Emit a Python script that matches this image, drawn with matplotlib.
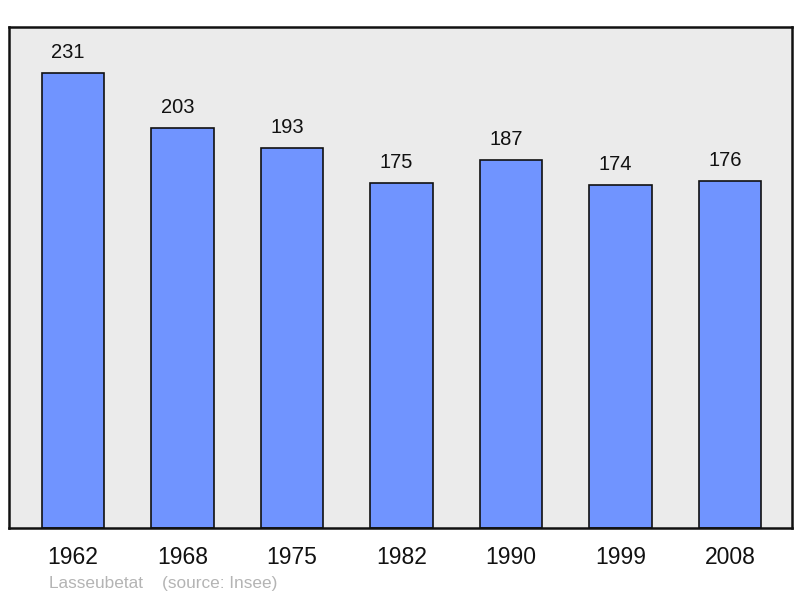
import matplotlib.pyplot as plt

plt.rcParams["font.family"] = ["Liberation Sans", "DejaVu Sans"]

years = ["1962", "1968", "1975", "1982", "1990", "1999", "2008"]
population = [231, 203, 193, 175, 187, 174, 176]

fig = plt.figure(figsize=(8, 5.98), dpi=100)
ax = fig.add_axes([0.0113, 0.117, 0.979, 0.838])
ax.set_facecolor("#ebebeb")

x = list(range(len(years)))
bars = ax.bar(x, population, width=0.57, color="#7094ff", edgecolor="#111111",
              linewidth=1.2, zorder=2)

# value labels sit a bit left of centre in the original
for xi, v in zip(x, population):
    ax.annotate(str(v), (xi, v), xytext=(-3.6, 10.8), textcoords="offset points",
                ha="center", va="baseline", fontsize=14.5, color="#111111")

ax.set_xlim(-0.585, 6.57)
ax.set_ylim(0, 254.5)
ax.set_yticks([])
ax.set_xticks(x)
ax.set_xticklabels(years, fontsize=16.5, color="#111111")
ax.tick_params(axis="x", length=0, pad=13)
for s in ax.spines.values():
    s.set_linewidth(1.8)
    s.set_color("#111111")

fig.text(0.061, 0.012, "Lasseubetat    (source: Insee)", fontsize=12.4,
         color="#b4b4b4", ha="left", va="bottom")

fig.savefig("out.png", dpi=100)
